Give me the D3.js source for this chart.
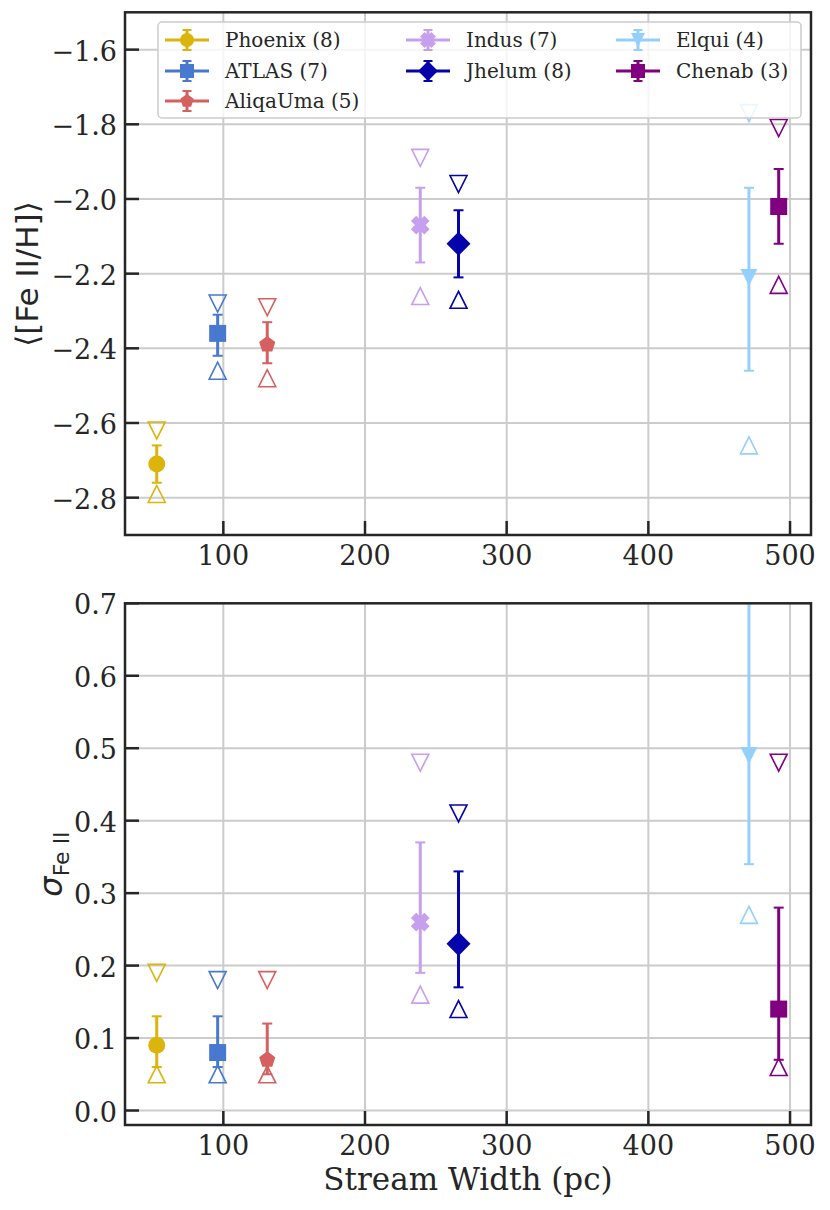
<!DOCTYPE html>
<html>
<head>
<meta charset="utf-8">
<script src="https://cdn.jsdelivr.net/npm/d3@7"></script>
<style>
  body { margin: 0; background: #fff; }
  text { fill: #262626; }
</style>
</head>
<body>
<svg width="830" height="1210"></svg>
<script>
// stream data
var streams = ["Phoenix", "ATLAS", "AliqaUma", "Indus", "Jhelum", "Elqui", "Chenab"];
var nStars = [8, 7, 5, 7, 8, 4, 3];
var colors = ["#dbb40c", "#4878d0", "#d65f5f", "#c79fef", "#0504aa", "#95d0fc", "#800080"];
var shapes = ["o", "s", "p", "X", "D", "v", "s"];
var streamWidth = [53, 96, 131, 239, 266, 471, 492];

var feh    = [-2.71, -2.36, -2.39, -2.07, -2.12, -2.21, -2.02];
var fehLo  = [-2.76, -2.42, -2.44, -2.17, -2.21, -2.46, -2.12];
var fehHi  = [-2.66, -2.31, -2.33, -1.97, -2.03, -1.97, -1.92];
var fehMax = [-2.62, -2.28, -2.29, -1.89, -1.96, -1.77, -1.81];
var fehMin = [-2.79, -2.46, -2.48, -2.26, -2.27, -2.66, -2.23];

var sig    = [0.09, 0.08, 0.07, 0.26, 0.23, 0.49, 0.14];
var sigLo  = [0.06, 0.06, 0.05, 0.19, 0.17, 0.34, 0.07];
var sigHi  = [0.13, 0.13, 0.12, 0.37, 0.33, 0.80, 0.28];
var sigMax = [0.19, 0.18, 0.18, 0.48, 0.41, null, 0.48];
var sigMin = [0.05, 0.05, 0.05, 0.16, 0.14, 0.27, 0.06];

var widthTicks = [100, 200, 300, 400, 500];
var fehTicks = [-2.8, -2.6, -2.4, -2.2, -2.0, -1.8, -1.6];
var sigTicks = [0.0, 0.1, 0.2, 0.3, 0.4, 0.5, 0.6, 0.7];

var svg = d3.select("svg");
var left = 125, right = 811;
var ms = 17;
var ink = "#262626";

var x = d3.scaleLinear().domain([30.6, 514.8]).range([left, right]);

function markerPath (shape, s) {
    let h = s / 2;
    if (shape === "o") return d3.symbol(d3.symbolCircle, Math.PI * h * h)();
    if (shape === "s") return `M${-h},${-h}H${h}V${h}H${-h}Z`;
    if (shape === "D") {
        let d = h * Math.SQRT2;
        return `M0,${-d}L${d},0L0,${d}L${-d},0Z`;
    }
    if (shape === "v") return `M0,${h}L${-h},${-h}L${h},${-h}Z`;
    if (shape === "^") return `M0,${-h}L${-h},${h}L${h},${h}Z`;
    if (shape === "p") {
        let pts = d3.range(5).map((k) => {
            let a = -Math.PI / 2 + k * 2 * Math.PI / 5;
            return [h * Math.cos(a), h * Math.sin(a)];
        });
        return "M" + pts.map((p) => p.join(",")).join("L") + "Z";
    }
    if (shape === "X") {
        // filled plus, turned 45 degrees
        let base = [[-1.2,-3],[-1.2,-1.2],[-3,-1.2],[-3,1.2],[-1.2,1.2],[-1.2,3],[1.2,3],[1.2,1.2],[3,1.2],[3,-1.2],[1.2,-1.2],[1.2,-3]];
        let c = Math.cos(Math.PI / 4), sn = Math.sin(Math.PI / 4);
        let pts = base.map((p) => {
            let px = p[0] * s / 6, py = p[1] * s / 6;
            return [px * c - py * sn, px * sn + py * c];
        });
        return "M" + pts.map((p) => p.join(",")).join("L") + "Z";
    }
}

var panels = [
    { id: "top", y0: 12.3, y1: 535, domain: [-2.9, -1.5], ticks: fehTicks,
      val: feh, lo: fehLo, hi: fehHi, max: fehMax, min: fehMin },
    { id: "bot", y0: 603.3, y1: 1125, domain: [-0.02, 0.7], ticks: sigTicks,
      val: sig, lo: sigLo, hi: sigHi, max: sigMax, min: sigMin }
];

panels.forEach((p) => {

    let y = d3.scaleLinear().domain(p.domain).range([p.y1, p.y0]);
    let g = svg.append("g");

    g.append("clipPath").attr("id", "clip-" + p.id)
        .append("rect")
        .attr("x", left).attr("y", p.y0)
        .attr("width", right - left).attr("height", p.y1 - p.y0);

    // grid
    g.selectAll(".gx").data(widthTicks).enter().append("line")
        .attr("x1", (d) => x(d)).attr("x2", (d) => x(d))
        .attr("y1", p.y0).attr("y2", p.y1)
        .attr("stroke", "#cccccc").attr("stroke-width", 2);
    g.selectAll(".gy").data(p.ticks).enter().append("line")
        .attr("x1", left).attr("x2", right)
        .attr("y1", (d) => y(d)).attr("y2", (d) => y(d))
        .attr("stroke", "#cccccc").attr("stroke-width", 2);

    let data = g.append("g").attr("clip-path", `url(#clip-${p.id})`);

    streams.forEach((s, i) => {
        let cx = x(streamWidth[i]);
        let col = colors[i];
        let sg = data.append("g");

        sg.append("line")
            .attr("x1", cx).attr("x2", cx)
            .attr("y1", y(p.lo[i])).attr("y2", y(p.hi[i]))
            .attr("stroke", col).attr("stroke-width", 3);
        [p.lo[i], p.hi[i]].forEach((v) => {
            sg.append("line")
                .attr("x1", cx - 5).attr("x2", cx + 5)
                .attr("y1", y(v)).attr("y2", y(v))
                .attr("stroke", col).attr("stroke-width", 2);
        });
        sg.append("path")
            .attr("d", markerPath(shapes[i], shapes[i] === "X" ? 19 : ms))
            .attr("transform", `translate(${cx},${y(p.val[i])})`)
            .attr("fill", col);

        // range markers (open triangles)
        if (p.max[i] != null) {
            sg.append("path")
                .attr("d", markerPath("v", ms))
                .attr("transform", `translate(${cx},${y(p.max[i])})`)
                .attr("fill", "none").attr("stroke", col).attr("stroke-width", 1.6);
        }
        sg.append("path")
            .attr("d", markerPath("^", ms))
            .attr("transform", `translate(${cx},${y(p.min[i])})`)
            .attr("fill", "none").attr("stroke", col).attr("stroke-width", 1.6);
    });

    // ticks + labels
    g.selectAll(".tx").data(widthTicks).enter().append("line")
        .attr("x1", (d) => x(d)).attr("x2", (d) => x(d))
        .attr("y1", p.y1).attr("y2", p.y1 - 14)
        .attr("stroke", ink).attr("stroke-width", 2.5);
    g.selectAll(".lx").data(widthTicks).enter().append("text")
        .attr("x", (d) => x(d)).attr("y", p.y1 + 30)
        .attr("text-anchor", "middle")
        .style("font-family", "DejaVu Serif").style("font-size", "27px")
        .text((d) => d);

    g.selectAll(".ty").data(p.ticks).enter().append("line")
        .attr("x1", left).attr("x2", left + 14)
        .attr("y1", (d) => y(d)).attr("y2", (d) => y(d))
        .attr("stroke", ink).attr("stroke-width", 2.5);
    g.selectAll(".ly").data(p.ticks).enter().append("text")
        .attr("x", left - 8).attr("y", (d) => y(d) + 11)
        .attr("text-anchor", "end")
        .style("font-family", "DejaVu Serif").style("font-size", "27px")
        .text((d) => d3.format(".1f")(d));

    g.append("rect")
        .attr("x", left).attr("y", p.y0)
        .attr("width", right - left).attr("height", p.y1 - p.y0)
        .attr("fill", "none").attr("stroke", ink).attr("stroke-width", 2.5);
});

// axis labels
svg.append("text")
    .attr("transform", "translate(38,274) rotate(-90)")
    .attr("text-anchor", "middle")
    .style("font-family", "DejaVu Sans").style("font-size", "31px")
    .text("⟨[Fe II/H]⟩");

var sl = svg.append("text")
    .attr("transform", "translate(62,864) rotate(-90)")
    .attr("text-anchor", "middle")
    .style("font-family", "DejaVu Sans").style("font-size", "32px");
sl.append("tspan").style("font-style", "italic").text("σ");
sl.append("tspan").attr("dy", 7).style("font-size", "22px").text("Fe II");

svg.append("text")
    .attr("x", (left + right) / 2).attr("y", 1190)
    .attr("text-anchor", "middle")
    .style("font-family", "DejaVu Serif").style("font-size", "31px")
    .text("Stream Width (pc)");

// legend
var legend = svg.append("g");
legend.append("rect")
    .attr("x", 158).attr("y", 22).attr("width", 643).attr("height", 96)
    .attr("rx", 4)
    .attr("fill", "#fff").attr("fill-opacity", 0.8)
    .attr("stroke", "#cccccc").attr("stroke-width", 1.5);

var colX = [187, 428, 638], rowY = [40, 71, 101];
streams.forEach((s, i) => {
    let col = i < 3 ? 0 : (i < 5 ? 1 : 2);
    let row = i < 3 ? i : (i < 5 ? i - 3 : i - 5);
    let cx = colX[col], cy = rowY[row];
    let lg = legend.append("g");
    lg.append("line")
        .attr("x1", cx - 22).attr("x2", cx + 22).attr("y1", cy).attr("y2", cy)
        .attr("stroke", colors[i]).attr("stroke-width", 3);
    lg.append("line")
        .attr("x1", cx).attr("x2", cx).attr("y1", cy - 10).attr("y2", cy + 10)
        .attr("stroke", colors[i]).attr("stroke-width", 3);
    [-10, 10].forEach((dy) => {
        lg.append("line")
            .attr("x1", cx - 4.5).attr("x2", cx + 4.5).attr("y1", cy + dy).attr("y2", cy + dy)
            .attr("stroke", colors[i]).attr("stroke-width", 2);
    });
    lg.append("path")
        .attr("d", markerPath(shapes[i], shapes[i] === "X" ? 16 : 14))
        .attr("transform", `translate(${cx},${cy})`)
        .attr("fill", colors[i]);
    lg.append("text")
        .attr("x", cx + 38).attr("y", cy + 7)
        .style("font-family", "DejaVu Serif").style("font-size", "20px")
        .text(`${s} (${nStars[i]})`);
});
</script>
</body>
</html>
